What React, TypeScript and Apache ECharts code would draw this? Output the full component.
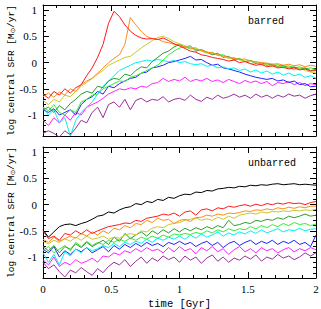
import React, { useEffect, useRef } from "react";
import * as echarts from "echarts";

// time grid in Gyr (0 .. 2 in 0.04 steps)
const times: number[] = [
  0, 0.04, 0.08, 0.12, 0.16, 0.2, 0.24, 0.28, 0.32, 0.36, 0.4, 0.44, 0.48, 0.52, 0.56, 0.6, 0.64, 0.68, 0.72, 0.76,
  0.8, 0.84, 0.88, 0.92, 0.96, 1.0, 1.04, 1.08, 1.12, 1.16, 1.2, 1.24, 1.28, 1.32, 1.36, 1.4, 1.44, 1.48, 1.52, 1.56,
  1.6, 1.64, 1.68, 1.72, 1.76, 1.8, 1.84, 1.88, 1.92, 1.96, 2.0,
];

// ---- barred (top panel) ----
const barredRed = [-0.60, -0.68, -0.55, -0.62, -0.50, -0.58, -0.48, -0.42, -0.25, -0.10, 0.10, 0.35, 0.75, 0.98, 0.88, 0.72, 0.60, 0.52, 0.47, 0.45, 0.46, 0.44, 0.47, 0.42, 0.36, 0.32, 0.27, 0.22, 0.20, 0.15, 0.13, 0.10, 0.08, 0.06, 0.03, 0.05, 0.00, 0.02, -0.02, -0.05, -0.03, -0.08, -0.06, -0.10, -0.09, -0.12, -0.10, -0.14, -0.12, -0.16, -0.15];
const barredOrange = [-0.65, -0.58, -0.66, -0.56, -0.62, -0.50, -0.55, -0.42, -0.35, -0.30, -0.20, -0.10, 0.00, 0.08, 0.15, 0.35, 0.86, 0.72, 0.60, 0.50, 0.46, 0.45, 0.40, 0.38, 0.35, 0.33, 0.30, 0.28, 0.25, 0.24, 0.20, 0.19, 0.15, 0.13, 0.10, 0.08, 0.06, 0.07, 0.03, 0.02, 0.00, -0.01, -0.03, -0.02, -0.05, -0.03, -0.06, -0.04, -0.08, -0.05, -0.07];
const barredGold = [-0.72, -0.80, -0.70, -0.75, -0.62, -0.65, -0.55, -0.45, -0.38, -0.30, -0.22, -0.15, -0.05, 0.00, 0.05, 0.10, 0.12, 0.20, 0.28, 0.35, 0.42, 0.48, 0.50, 0.46, 0.40, 0.36, 0.32, 0.29, 0.28, 0.22, 0.18, 0.20, 0.14, 0.12, 0.08, 0.10, 0.05, 0.03, -0.02, 0.00, -0.05, -0.03, -0.08, -0.06, -0.10, -0.08, -0.14, -0.10, -0.15, -0.18, -0.20];
const barredDarkGreen = [-0.90, -0.85, -0.95, -0.82, -0.90, -0.78, -0.70, -0.60, -0.55, -0.58, -0.45, -0.48, -0.35, -0.30, -0.32, -0.22, -0.25, -0.15, -0.08, -0.10, 0.02, 0.10, 0.18, 0.22, 0.30, 0.35, 0.30, 0.32, 0.22, 0.25, 0.20, 0.15, 0.18, 0.10, 0.12, 0.05, 0.08, 0.02, 0.04, -0.02, 0.00, -0.05, -0.03, -0.08, -0.05, -0.10, -0.08, -0.12, -0.10, -0.15, -0.13];
const barredGreen = [-0.85, -0.92, -0.80, -0.95, -1.00, -0.90, -0.95, -0.75, -0.70, -0.62, -0.60, -0.50, -0.45, -0.40, -0.35, -0.36, -0.28, -0.25, -0.20, -0.15, -0.10, -0.05, 0.05, 0.15, 0.22, 0.28, 0.30, 0.26, 0.28, 0.22, 0.20, 0.18, 0.14, 0.15, 0.10, 0.08, 0.06, 0.02, 0.04, 0.00, -0.03, -0.01, -0.05, -0.04, -0.08, -0.06, -0.10, -0.08, -0.12, -0.10, -0.13];
const barredCyan = [-0.85, -1.00, -0.90, -1.15, -1.05, -1.40, -1.10, -0.95, -0.85, -0.75, -0.60, -0.45, -0.35, -0.25, -0.15, -0.10, -0.05, 0.00, 0.02, 0.05, 0.03, 0.06, 0.04, 0.02, 0.04, 0.00, 0.02, -0.02, -0.04, -0.02, -0.07, -0.05, -0.10, -0.08, -0.12, -0.10, -0.15, -0.12, -0.18, -0.14, -0.20, -0.16, -0.22, -0.18, -0.24, -0.20, -0.25, -0.22, -0.28, -0.25, -0.30];
const barredBlue = [-0.90, -0.95, -0.88, -1.00, -0.95, -0.90, -1.00, -0.80, -0.70, -0.65, -0.55, -0.60, -0.45, -0.48, -0.40, -0.35, -0.30, -0.28, -0.20, -0.18, -0.10, -0.08, -0.05, 0.00, 0.02, 0.05, 0.08, 0.12, 0.05, 0.06, 0.00, -0.05, -0.03, -0.10, -0.12, -0.15, -0.18, -0.22, -0.25, -0.28, -0.30, -0.32, -0.30, -0.35, -0.33, -0.38, -0.35, -0.42, -0.40, -0.46, -0.45];
const barredMagenta = [-1.10, -1.20, -1.05, -1.15, -1.00, -1.10, -0.95, -1.00, -0.85, -0.80, -0.75, -0.68, -0.60, -0.55, -0.50, -0.52, -0.48, -0.50, -0.45, -0.47, -0.40, -0.38, -0.30, -0.36, -0.32, -0.35, -0.28, -0.36, -0.32, -0.35, -0.30, -0.36, -0.33, -0.38, -0.32, -0.36, -0.40, -0.34, -0.38, -0.35, -0.40, -0.36, -0.44, -0.38, -0.40, -0.36, -0.42, -0.38, -0.44, -0.40, -0.42];
const barredPurple = [-1.35, -1.30, -1.35, -1.42, -1.30, -1.38, -1.25, -1.10, -1.15, -0.95, -0.85, -1.05, -0.80, -0.75, -0.85, -0.70, -0.90, -0.72, -0.68, -0.75, -0.70, -0.72, -0.65, -0.75, -0.70, -0.68, -0.72, -0.62, -0.70, -0.74, -0.66, -0.70, -0.62, -0.68, -0.65, -0.60, -0.66, -0.62, -0.68, -0.60, -0.66, -0.62, -0.68, -0.62, -0.66, -0.60, -0.64, -0.62, -0.68, -0.63, -0.60];

// ---- unbarred (bottom panel) ----
const unbarredBlack = [-0.48, -0.62, -0.52, -0.42, -0.38, -0.37, -0.40, -0.36, -0.33, -0.28, -0.22, -0.20, -0.14, -0.16, -0.10, -0.06, -0.04, 0.02, 0.00, 0.06, 0.04, 0.10, 0.08, 0.14, 0.12, 0.17, 0.20, 0.19, 0.24, 0.23, 0.27, 0.26, 0.30, 0.31, 0.33, 0.32, 0.35, 0.34, 0.37, 0.36, 0.38, 0.37, 0.39, 0.40, 0.38, 0.39, 0.40, 0.38, 0.39, 0.38, 0.37];
const unbarredRed = [-0.50, -0.65, -0.60, -0.68, -0.55, -0.58, -0.50, -0.56, -0.48, -0.55, -0.50, -0.46, -0.42, -0.40, -0.38, -0.35, -0.36, -0.30, -0.32, -0.26, -0.24, -0.22, -0.18, -0.20, -0.16, -0.22, -0.14, -0.12, -0.20, -0.10, -0.08, -0.12, -0.06, -0.08, -0.03, -0.05, -0.02, 0.00, -0.03, 0.01, -0.02, 0.02, 0.00, 0.03, 0.01, 0.04, 0.02, 0.03, 0.00, 0.04, 0.06];
const unbarredOrange = [-0.66, -0.72, -0.62, -0.70, -0.65, -0.60, -0.64, -0.55, -0.60, -0.52, -0.58, -0.50, -0.55, -0.45, -0.48, -0.40, -0.44, -0.36, -0.38, -0.30, -0.34, -0.26, -0.30, -0.28, -0.36, -0.30, -0.28, -0.32, -0.25, -0.24, -0.20, -0.22, -0.18, -0.20, -0.16, -0.17, -0.15, -0.12, -0.13, -0.10, -0.11, -0.08, -0.10, -0.06, -0.08, -0.05, -0.07, -0.04, -0.06, -0.03, -0.03];
const unbarredGold = [-0.70, -0.75, -0.68, -0.72, -0.65, -0.70, -0.62, -0.68, -0.60, -0.66, -0.64, -0.60, -0.66, -0.62, -0.64, -0.58, -0.55, -0.58, -0.50, -0.52, -0.45, -0.42, -0.44, -0.38, -0.36, -0.34, -0.30, -0.28, -0.25, -0.30, -0.27, -0.30, -0.24, -0.28, -0.22, -0.26, -0.20, -0.18, -0.16, -0.18, -0.14, -0.16, -0.13, -0.14, -0.12, -0.13, -0.11, -0.12, -0.10, -0.11, -0.09];
const unbarredDarkGreen = [-0.80, -0.88, -0.78, -0.92, -0.80, -0.85, -0.75, -0.82, -0.72, -0.80, -0.74, -0.68, -0.76, -0.62, -0.70, -0.55, -0.65, -0.58, -0.52, -0.60, -0.50, -0.56, -0.48, -0.54, -0.46, -0.52, -0.45, -0.50, -0.44, -0.48, -0.42, -0.46, -0.40, -0.44, -0.30, -0.40, -0.38, -0.34, -0.36, -0.30, -0.32, -0.28, -0.30, -0.25, -0.28, -0.22, -0.25, -0.22, -0.18, -0.22, -0.20];
const unbarredGreen = [-0.88, -0.80, -0.92, -0.85, -0.78, -0.88, -0.72, -0.80, -0.70, -0.78, -0.72, -0.76, -0.68, -0.72, -0.66, -0.70, -0.64, -0.68, -0.62, -0.66, -0.60, -0.64, -0.58, -0.62, -0.56, -0.58, -0.55, -0.57, -0.53, -0.56, -0.50, -0.54, -0.48, -0.52, -0.46, -0.50, -0.46, -0.48, -0.42, -0.46, -0.40, -0.44, -0.38, -0.42, -0.36, -0.40, -0.34, -0.38, -0.36, -0.40, -0.37];
const unbarredCyan = [-0.92, -1.10, -0.95, -1.15, -0.90, -0.98, -0.85, -0.92, -0.82, -0.88, -0.84, -0.78, -0.82, -0.74, -0.80, -0.72, -0.76, -0.70, -0.74, -0.66, -0.72, -0.64, -0.68, -0.62, -0.66, -0.60, -0.66, -0.58, -0.64, -0.56, -0.62, -0.58, -0.52, -0.60, -0.54, -0.58, -0.52, -0.56, -0.50, -0.55, -0.48, -0.54, -0.50, -0.46, -0.52, -0.48, -0.50, -0.45, -0.50, -0.47, -0.46];
const unbarredBlue = [-0.85, -0.92, -0.80, -1.00, -0.88, -0.95, -0.85, -0.90, -0.82, -0.92, -0.86, -0.80, -0.90, -0.78, -0.85, -0.76, -0.82, -0.74, -0.80, -0.72, -0.78, -0.74, -0.80, -0.72, -0.76, -0.70, -0.76, -0.72, -0.80, -0.74, -0.70, -0.78, -0.72, -0.82, -0.74, -0.70, -0.78, -0.72, -0.68, -0.76, -0.70, -0.74, -0.68, -0.76, -0.70, -0.74, -0.68, -0.76, -0.72, -0.80, -0.58];
const unbarredMagenta = [-1.05, -1.15, -1.00, -1.18, -1.10, -1.15, -1.05, -1.12, -1.08, -1.02, -1.10, -0.98, -1.00, -0.92, -0.96, -0.88, -0.92, -0.84, -0.90, -0.82, -0.88, -0.85, -0.92, -0.82, -0.90, -0.80, -0.88, -0.84, -0.94, -0.82, -0.88, -0.80, -0.90, -0.84, -0.95, -0.86, -0.80, -0.90, -0.84, -0.92, -0.82, -0.88, -0.84, -0.92, -0.86, -0.82, -0.90, -0.84, -0.88, -0.82, -0.86];
const unbarredPurple = [-1.10, -1.22, -1.15, -1.28, -1.38, -1.25, -1.30, -1.20, -1.28, -1.35, -1.22, -1.30, -1.18, -1.10, -1.15, -1.05, -1.18, -1.08, -1.00, -1.12, -1.02, -1.08, -0.98, -1.05, -1.00, -1.10, -0.98, -1.06, -1.00, -1.12, -1.02, -0.96, -1.08, -1.00, -1.10, -1.02, -1.06, -0.98, -1.04, -0.96, -1.08, -1.00, -1.04, -0.95, -1.02, -0.98, -1.05, -1.00, -0.92, -0.98, -0.92];

const COLORS = {
  black: "#000000",
  red: "#ff1a1a",
  orange: "#ff8c1a",
  gold: "#c9c92e",
  darkGreen: "#2e9b2e",
  green: "#33ee33",
  cyan: "#00f0f0",
  blue: "#2020ff",
  magenta: "#ff22ff",
  purple: "#9a2f9a",
};

const barredSeries: [number[], string][] = [
  [barredPurple, COLORS.purple],
  [barredMagenta, COLORS.magenta],
  [barredBlue, COLORS.blue],
  [barredCyan, COLORS.cyan],
  [barredGreen, COLORS.green],
  [barredDarkGreen, COLORS.darkGreen],
  [barredGold, COLORS.gold],
  [barredOrange, COLORS.orange],
  [barredRed, COLORS.red],
];

const unbarredSeries: [number[], string][] = [
  [unbarredPurple, COLORS.purple],
  [unbarredMagenta, COLORS.magenta],
  [unbarredBlue, COLORS.blue],
  [unbarredCyan, COLORS.cyan],
  [unbarredGreen, COLORS.green],
  [unbarredDarkGreen, COLORS.darkGreen],
  [unbarredGold, COLORS.gold],
  [unbarredOrange, COLORS.orange],
  [unbarredRed, COLORS.red],
  [unbarredBlack, COLORS.black],
];

const panelLabels = ["barred", "unbarred"];
const X_MIN = 0;
const X_MAX = 2;
const Y_MIN = -1.4;
const Y_MAX = 1.1;

const MONO = '"Liberation Mono", "DejaVu Sans Mono", monospace';
const SERIF = '"Liberation Serif", "DejaVu Serif", serif';

export default function App() {
  const ref = useRef<HTMLDivElement>(null);

  useEffect(() => {
    if (!ref.current) return;
    const chart = echarts.init(ref.current, undefined, { renderer: "svg" });

    const tickCommon = {
      axisLine: { show: true, onZero: false, lineStyle: { color: "#000", width: 1 } },
      axisTick: { show: true, inside: true, length: 6, lineStyle: { color: "#000", width: 1 } },
      minorTick: { show: true, splitNumber: 5, length: 3, lineStyle: { color: "#000", width: 1 } },
      splitLine: { show: false },
      minorSplitLine: { show: false },
    };

    const xAxis = (grid: number, position: "bottom" | "top", labels: boolean, name?: string) => ({
      type: "value",
      gridIndex: grid,
      position,
      min: X_MIN,
      max: X_MAX,
      interval: 0.5,
      ...tickCommon,
      axisLabel: {
        show: labels,
        color: "#000",
        fontFamily: SERIF,
        fontSize: 11,
        margin: 5,
      },
      name: name || "",
      nameLocation: "middle",
      nameGap: 20,
      nameMoveOverlap: false,
      nameTextStyle: { color: "#000", fontFamily: MONO, fontSize: 10.5 },
    });

    const yAxis = (grid: number, position: "left" | "right", labels: boolean, name?: string) => ({
      type: "value",
      gridIndex: grid,
      position,
      min: Y_MIN,
      max: Y_MAX,
      splitNumber: 5,
      ...tickCommon,
      axisLabel: {
        show: labels,
        color: "#000",
        fontFamily: SERIF,
        fontSize: 11,
        margin: 6,
        formatter: (v: number) =>
          Math.abs(v * 2 - Math.round(v * 2)) < 1e-6 ? String(Math.round(v * 2) / 2) : "",
      },
      name: name || "",
      nameLocation: "middle",
      nameGap: 27,
      nameMoveOverlap: false,
      nameTextStyle: {
        color: "#000",
        fontFamily: MONO,
        fontSize: 9.5,
        lineHeight: 10,
        rich: {
          s: { fontFamily: "DejaVu Sans", fontSize: 6.5, lineHeight: 4, verticalAlign: "bottom" },
        },
      },
    });

    const yName = "log central SFR [M{s|⊙}/yr]";

    const mkSeries = (list: [number[], string][], idx: number) =>
      list.map(([vals, color]) => ({
        type: "line",
        xAxisIndex: idx * 2,
        yAxisIndex: idx * 2,
        data: times.map((t, i) => [t, vals[i]]),
        symbol: "none",
        lineStyle: { color, width: 1 },
        itemStyle: { color },
        clip: true,
        silent: true,
      }));

    chart.setOption({
      animation: false,
      backgroundColor: "#ffffff",
      grid: [
        { left: 43, top: 5, width: 273, height: 131, outerBoundsMode: "none", containLabel: false },
        { left: 43, top: 147, width: 273, height: 131, outerBoundsMode: "none", containLabel: false },
      ],
      xAxis: [
        xAxis(0, "bottom", false),
        xAxis(0, "top", false),
        xAxis(1, "bottom", true, "time [Gyr]"),
        xAxis(1, "top", false),
      ],
      yAxis: [
        yAxis(0, "left", true, yName),
        yAxis(0, "right", false),
        yAxis(1, "left", true, yName),
        yAxis(1, "right", false),
      ],
      graphic: [
        { type: "text", left: 248, top: 16, style: { text: panelLabels[0], font: `10px ${MONO}`, fill: "#000" } },
        { type: "text", left: 248, top: 158, style: { text: panelLabels[1], font: `10px ${MONO}`, fill: "#000" } },
      ],
      series: [...mkSeries(barredSeries, 0), ...mkSeries(unbarredSeries, 1)],
    });

    return () => chart.dispose();
  }, []);

  return (
    <div
      ref={ref}
      style={{ position: "fixed", left: 0, top: 0, width: 321, height: 309, background: "#fff" }}
    />
  );
}
